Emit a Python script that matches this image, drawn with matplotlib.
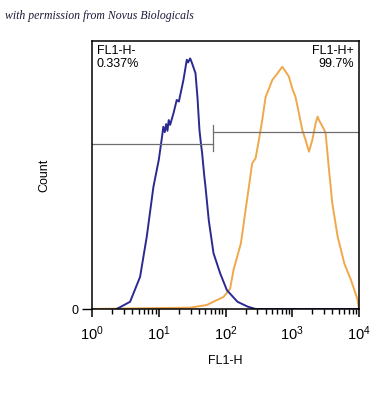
import matplotlib
matplotlib.use("Agg")
import matplotlib.pyplot as plt
from matplotlib.ticker import LogLocator, NullFormatter, FixedLocator

plt.rcParams["font.family"] = ["Liberation Sans", "DejaVu Sans"]
plt.rcParams["mathtext.fontset"] = "custom"
plt.rcParams["mathtext.rm"] = "Liberation Sans"
plt.rcParams["mathtext.it"] = "Liberation Sans"

# =========================
# DATA (FL1-H intensity vs count)
# =========================
blue_x = [2.34, 3.72, 5.25, 6.61, 8.32, 10.0, 11.2, 11.7, 12.3, 12.9, 13.5, 14.1,
          14.8, 16.6, 18.6, 20.0, 23.4, 26.3, 27.5, 29.5, 30.9, 35.5, 38.0, 40.7,
          42.7, 44.7, 47.9, 50.1, 56.2, 66.1, 83.2, 105, 151, 214, 282, 10000]
blue_y = [0, 2.7, 12, 27, 45.6, 55.6, 64.3, 68, 66, 69, 66.5, 70.5,
          68.7, 73, 78, 77.4, 85.4, 93, 92, 93.5, 92.3, 88, 79, 66.8,
          62, 58, 50, 45.6, 33, 20.8, 13.3, 7, 2.7, 0.9, 0, 0]

orange_x = [1, 29.5, 52.5, 70.8, 93.3, 117, 132, 170, 200, 224, 251, 282, 316,
            355, 398, 501, 603, 708, 794, 891, 1000, 1122, 1259, 1413, 1585,
            1778, 1995, 2239, 2399, 2512, 3020, 3162, 3548, 3981, 4786, 6026,
            7586, 9550, 10000]
orange_y = [0, 0.5, 1.5, 3.1, 4.5, 7.5, 14.6, 24.5, 37, 45.6, 54.4, 56.2, 63,
            70.5, 79, 85.4, 88, 90.4, 88.6, 86.7, 82.3, 79, 73, 66.8, 63,
            58.7, 63, 69.3, 71.8, 70.5, 66.8, 65.5, 52, 39.4, 27, 17,
            10.8, 3.4, 0]

gate_split = 65
gate_left_y = 61.5
gate_right_y = 66
gate_labels = ["FL1-H-\n0.337%", "FL1-H+\n99.7%"]
decades = [1, 10, 100, 1000, 10000]
decade_labels = ["$10^{0}$", "$10^{1}$", "$10^{2}$", "$10^{3}$", "$10^{4}$"]

# =========================
# FIGURE
# =========================
fig = plt.figure(figsize=(3.85, 4.0), dpi=100)
ax = fig.add_axes([0.239, 0.2275, 0.6935, 0.67])

ax.plot(orange_x, orange_y, color="#f0a84a", lw=1.4)
ax.plot(blue_x, blue_y, color="#2a2a92", lw=1.4)

# gates
gcol = "#6e6e6e"
ax.plot([1, gate_split], [gate_left_y, gate_left_y], color=gcol, lw=0.9)
ax.plot([gate_split, 10000], [gate_right_y, gate_right_y], color=gcol, lw=0.9)
ax.plot([gate_split, gate_split], [59, 68.5], color=gcol, lw=0.9)

ax.set_xscale("log")
ax.set_xlim(1, 10000)
ax.set_ylim(0, 100)

ax.xaxis.set_major_locator(FixedLocator(decades))
ax.set_xticklabels(decade_labels, fontsize=10.5)
ax.xaxis.set_minor_locator(LogLocator(base=10, subs=range(2, 10)))
ax.xaxis.set_minor_formatter(NullFormatter())
ax.tick_params(axis="x", which="major", length=6, width=1.1, direction="out", pad=5)
ax.tick_params(axis="x", which="minor", length=3.5, width=1.0, direction="out")

ax.set_yticks([0])
ax.set_yticklabels(["0"], fontsize=9)
ax.tick_params(axis="y", length=7, width=1.0, pad=3)

for s in ax.spines.values():
    s.set_linewidth(1.1)

ax.set_xlabel("FL1-H", fontsize=9, labelpad=9)
ax.set_ylabel("Count", fontsize=9, labelpad=15)

ax.text(0.018, 0.985, gate_labels[0], transform=ax.transAxes, ha="left", va="top",
        fontsize=9, linespacing=1.1)
ax.text(0.98, 0.985, gate_labels[1], transform=ax.transAxes, ha="right", va="top",
        fontsize=9, linespacing=1.1)

fig.text(0.013, 0.96, "with permission from Novus Biologicals", fontsize=8.5,
         family="Liberation Serif", style="italic", color="#1a1a3a", ha="left", va="center")

plt.savefig("out.png", dpi=100)
plt.close()
